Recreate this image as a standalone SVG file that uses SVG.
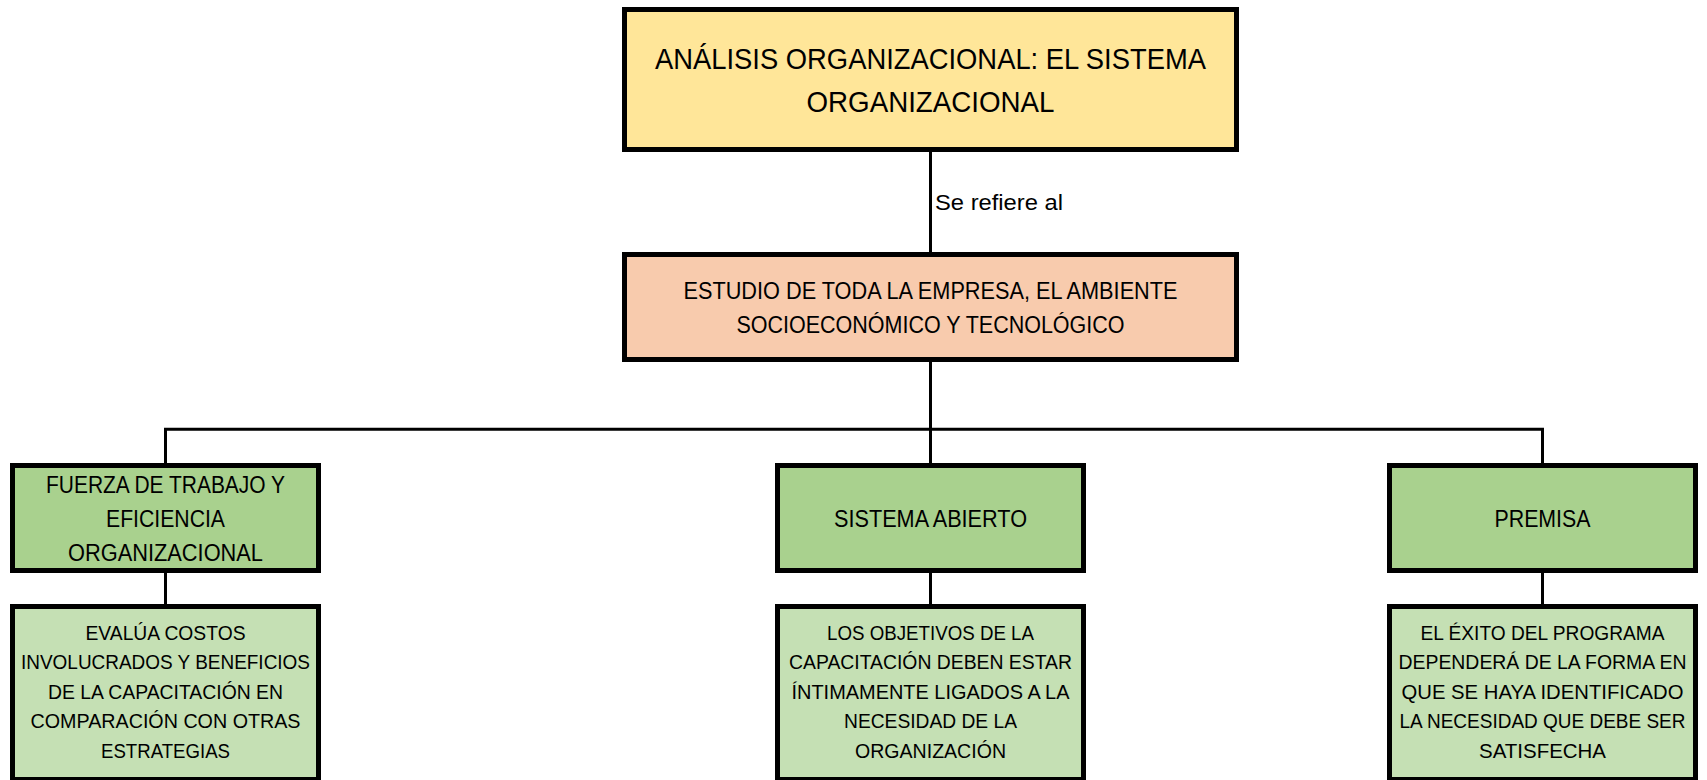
<svg xmlns="http://www.w3.org/2000/svg" width="1707" height="780" viewBox="0 0 1707 780">
<style>
.box{stroke:#000;stroke-width:5}
.y{fill:#FFE699}
.p{fill:#F8CBAD}
.g{fill:#A9D18E}
.lg{fill:#C5E0B4}
.con{stroke:#000;stroke-width:3;fill:none}
text{font-family:"Liberation Sans",Arial,sans-serif;fill:#000;text-anchor:middle}
.t1{font-size:29px}
.t2{font-size:23px}
.t3{font-size:23px}
.t4{font-size:20px}
.lbl{font-size:22px;text-anchor:start}
</style>
<rect width="1707" height="780" fill="#fff"/>
<g id="connectors">
<line class="con" x1="930.5" y1="150" x2="930.5" y2="255"/>
<line class="con" x1="930.5" y1="358" x2="930.5" y2="466"/>
<polyline class="con" points="165.5,466 165.5,429.2 1542.5,429.2 1542.5,466"/>
<line class="con" x1="165.5" y1="570" x2="165.5" y2="607"/>
<line class="con" x1="930.5" y1="570" x2="930.5" y2="607"/>
<line class="con" x1="1542.5" y1="570" x2="1542.5" y2="607"/>
<text class="lbl" x="935" y="210" textLength="128" lengthAdjust="spacingAndGlyphs">Se refiere al</text>
</g>
<g id="n-titulo">
<rect class="box y" x="624.5" y="9.5" width="612" height="140"/>
<text class="t1" x="930.5" y="68.5" textLength="551" lengthAdjust="spacingAndGlyphs">ANÁLISIS ORGANIZACIONAL: EL SISTEMA</text>
<text class="t1" x="930.5" y="111.5" textLength="248" lengthAdjust="spacingAndGlyphs">ORGANIZACIONAL</text>
</g>
<g id="n-estudio">
<rect class="box p" x="624.5" y="254.5" width="612" height="105"/>
<text class="t2" x="930.5" y="298.5" textLength="494" lengthAdjust="spacingAndGlyphs">ESTUDIO DE TODA LA EMPRESA, EL AMBIENTE</text>
<text class="t2" x="930.5" y="332.5" textLength="388" lengthAdjust="spacingAndGlyphs">SOCIOECONÓMICO Y TECNOLÓGICO</text>
</g>
<g id="n-fuerza">
<rect class="box g" x="12.5" y="465.5" width="306" height="105"/>
<text class="t3" x="165.5" y="493" textLength="239" lengthAdjust="spacingAndGlyphs">FUERZA DE TRABAJO Y</text>
<text class="t3" x="165.5" y="527" textLength="119" lengthAdjust="spacingAndGlyphs">EFICIENCIA</text>
<text class="t3" x="165.5" y="561" textLength="195" lengthAdjust="spacingAndGlyphs">ORGANIZACIONAL</text>
</g>
<g id="n-sistema">
<rect class="box g" x="777.5" y="465.5" width="306" height="105"/>
<text class="t3" x="930.5" y="527" textLength="193" lengthAdjust="spacingAndGlyphs">SISTEMA ABIERTO</text>
</g>
<g id="n-premisa">
<rect class="box g" x="1389.5" y="465.5" width="306" height="105"/>
<text class="t3" x="1542.5" y="527" textLength="96" lengthAdjust="spacingAndGlyphs">PREMISA</text>
</g>
<g id="n-evalua">
<rect class="box lg" x="12.5" y="606.5" width="306" height="173"/>
<text class="t4" x="165.5" y="639.5" textLength="160" lengthAdjust="spacingAndGlyphs">EVALÚA COSTOS</text>
<text class="t4" x="165.5" y="669" textLength="289" lengthAdjust="spacingAndGlyphs">INVOLUCRADOS Y BENEFICIOS</text>
<text class="t4" x="165.5" y="698.5" textLength="235" lengthAdjust="spacingAndGlyphs">DE LA CAPACITACIÓN EN</text>
<text class="t4" x="165.5" y="728" textLength="270" lengthAdjust="spacingAndGlyphs">COMPARACIÓN CON OTRAS</text>
<text class="t4" x="165.5" y="757.5" textLength="129" lengthAdjust="spacingAndGlyphs">ESTRATEGIAS</text>
</g>
<g id="n-objetivos">
<rect class="box lg" x="777.5" y="606.5" width="306" height="173"/>
<text class="t4" x="930.5" y="639.5" textLength="207" lengthAdjust="spacingAndGlyphs">LOS OBJETIVOS DE LA</text>
<text class="t4" x="930.5" y="669" textLength="283" lengthAdjust="spacingAndGlyphs">CAPACITACIÓN DEBEN ESTAR</text>
<text class="t4" x="930.5" y="698.5" textLength="278" lengthAdjust="spacingAndGlyphs">ÍNTIMAMENTE LIGADOS A LA</text>
<text class="t4" x="930.5" y="728" textLength="173" lengthAdjust="spacingAndGlyphs">NECESIDAD DE LA</text>
<text class="t4" x="930.5" y="757.5" textLength="151" lengthAdjust="spacingAndGlyphs">ORGANIZACIÓN</text>
</g>
<g id="n-exito">
<rect class="box lg" x="1389.5" y="606.5" width="306" height="173"/>
<text class="t4" x="1542.5" y="639.5" textLength="244" lengthAdjust="spacingAndGlyphs">EL ÉXITO DEL PROGRAMA</text>
<text class="t4" x="1542.5" y="669" textLength="288" lengthAdjust="spacingAndGlyphs">DEPENDERÁ DE LA FORMA EN</text>
<text class="t4" x="1542.5" y="698.5" textLength="282" lengthAdjust="spacingAndGlyphs">QUE SE HAYA IDENTIFICADO</text>
<text class="t4" x="1542.5" y="728" textLength="286" lengthAdjust="spacingAndGlyphs">LA NECESIDAD QUE DEBE SER</text>
<text class="t4" x="1542.5" y="757.5" textLength="127" lengthAdjust="spacingAndGlyphs">SATISFECHA</text>
</g>
</svg>
